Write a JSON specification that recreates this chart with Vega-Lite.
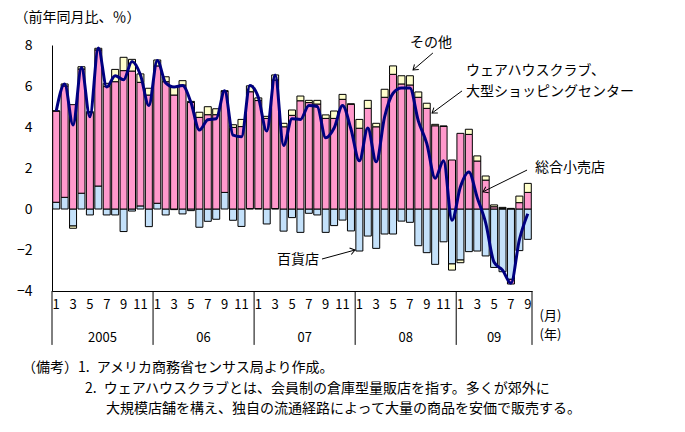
{
  "$schema": "https://vega.github.io/schema/vega-lite/v6.json",
  "width": 480,
  "height": 246,
  "autosize": "none",
  "padding": {"left": 52, "top": 45, "right": 153, "bottom": 141},
  "background": "white",
  "config": {
    "font": "Noto Sans CJK JP",
    "view": {"stroke": null},
    "axis": {"grid": false, "domain": true, "domainWidth": 1, "domainColor": "black", "labelColor": "black", "titleColor": "black", "labelFont": "Noto Sans CJK JP", "titleFont": "Noto Sans CJK JP", "titleFontWeight": "normal"},
    "axisX": {"ticks": false, "labelAngle": 0, "labelPadding": 7, "labelFontSize": 13, "labelOverlap": false, "titleFontSize": 13, "titleX": 487, "titleY": 18, "titleAlign": "left", "titleBaseline": "top", "titleLineHeight": 19},
    "axisY": {"ticks": false, "labelPadding": 20, "labelFontSize": 14, "titleFontSize": 14, "titleAngle": 0, "titleX": -38, "titleY": -28, "titleAlign": "left", "titleBaseline": "middle"}
  },
  "datasets": {
    "monthly": [
      {"t": "2005-01", "dept": 0.33, "club": 4.45, "other": 0, "total": 4.78},
      {"t": "2005-02", "dept": 0.57, "club": 5.43, "other": 0.10, "total": 6.10},
      {"t": "2005-03", "dept": -0.83, "club": 5.09, "other": -0.11, "total": 4.10},
      {"t": "2005-04", "dept": 0.77, "club": 6.06, "other": 0.11, "total": 6.90},
      {"t": "2005-05", "dept": -0.29, "club": 4.70, "other": 0.05, "total": 4.50},
      {"t": "2005-06", "dept": 1.12, "club": 6.64, "other": 0.08, "total": 7.85},
      {"t": "2005-07", "dept": -0.29, "club": 5.97, "other": 0.16, "total": 5.95},
      {"t": "2005-08", "dept": -0.29, "club": 6.21, "other": 0.60, "total": 6.50},
      {"t": "2005-09", "dept": -1.10, "club": 6.75, "other": 0.65, "total": 6.30},
      {"t": "2005-10", "dept": -0.10, "club": 6.73, "other": 0.57, "total": 7.20},
      {"t": "2005-11", "dept": 0.15, "club": 6.03, "other": 0.41, "total": 6.55},
      {"t": "2005-12", "dept": -0.86, "club": 5.56, "other": 0.33, "total": 5.05},
      {"t": "2006-01", "dept": 0.28, "club": 6.70, "other": 0.29, "total": 7.25},
      {"t": "2006-02", "dept": -0.29, "club": 6.21, "other": 0.24, "total": 6.15},
      {"t": "2006-03", "dept": -0.03, "club": 5.56, "other": 0.41, "total": 5.95},
      {"t": "2006-04", "dept": -0.24, "club": 6.05, "other": 0.21, "total": 6.02},
      {"t": "2006-05", "dept": -0.08, "club": 5.20, "other": 0.05, "total": 5.20},
      {"t": "2006-06", "dept": -0.89, "club": 4.47, "other": 0.25, "total": 3.85},
      {"t": "2006-07", "dept": -0.60, "club": 4.60, "other": 0.39, "total": 4.35},
      {"t": "2006-08", "dept": -0.50, "club": 4.60, "other": 0.29, "total": 4.40},
      {"t": "2006-09", "dept": 0.81, "club": 4.93, "other": 0.03, "total": 5.77},
      {"t": "2006-10", "dept": -0.55, "club": 3.98, "other": 0.13, "total": 3.60},
      {"t": "2006-11", "dept": -0.85, "club": 4.02, "other": 0.35, "total": 3.52},
      {"t": "2006-12", "dept": 0.02, "club": 5.70, "other": 0.29, "total": 6.03},
      {"t": "2007-01", "dept": 0.02, "club": 5.27, "other": 0.13, "total": 5.45},
      {"t": "2007-02", "dept": -0.73, "club": 4.42, "other": 0.10, "total": 3.80},
      {"t": "2007-03", "dept": 0.02, "club": 6.27, "other": 0.25, "total": 6.54},
      {"t": "2007-04", "dept": -1.08, "club": 4.01, "other": 0.17, "total": 3.10},
      {"t": "2007-05", "dept": -0.42, "club": 4.57, "other": 0.26, "total": 4.40},
      {"t": "2007-06", "dept": -1.14, "club": 5.28, "other": 0.23, "total": 4.37},
      {"t": "2007-07", "dept": -0.21, "club": 5.19, "other": 0.11, "total": 5.05},
      {"t": "2007-08", "dept": -0.29, "club": 5.12, "other": 0.18, "total": 5.00},
      {"t": "2007-09", "dept": -1.14, "club": 4.42, "other": 0.17, "total": 3.47},
      {"t": "2007-10", "dept": -0.81, "club": 4.42, "other": 0.36, "total": 3.95},
      {"t": "2007-11", "dept": -0.54, "club": 5.35, "other": 0.24, "total": 5.05},
      {"t": "2007-12", "dept": -1.07, "club": 5.11, "other": 0.02, "total": 3.90},
      {"t": "2008-01", "dept": -2.05, "club": 3.94, "other": 0.43, "total": 2.35},
      {"t": "2008-02", "dept": -1.32, "club": 4.91, "other": 0.39, "total": 3.95},
      {"t": "2008-03", "dept": -1.92, "club": 4.01, "other": 0.17, "total": 2.30},
      {"t": "2008-04", "dept": -1.22, "club": 5.45, "other": 0.39, "total": 4.50},
      {"t": "2008-05", "dept": -1.22, "club": 6.57, "other": 0.41, "total": 5.65},
      {"t": "2008-06", "dept": -0.59, "club": 6.10, "other": 0.40, "total": 5.90},
      {"t": "2008-07", "dept": -0.65, "club": 6.05, "other": 0.45, "total": 5.90},
      {"t": "2008-08", "dept": -1.79, "club": 5.45, "other": 0.26, "total": 4.30},
      {"t": "2008-09", "dept": -2.13, "club": 4.91, "other": 0.25, "total": 3.20},
      {"t": "2008-10", "dept": -2.70, "club": 4.06, "other": 0.07, "total": 1.50},
      {"t": "2008-11", "dept": -1.60, "club": 4.03, "other": 0.02, "total": 2.35},
      {"t": "2008-12", "dept": -2.68, "club": 2.39, "other": -0.30, "total": -0.55},
      {"t": "2009-01", "dept": -2.49, "club": 3.69, "other": -0.13, "total": 1.08},
      {"t": "2009-02", "dept": -2.08, "club": 3.64, "other": 0.25, "total": 1.80},
      {"t": "2009-03", "dept": -2.05, "club": 2.34, "other": 0.25, "total": 0.55},
      {"t": "2009-04", "dept": -2.29, "club": 1.41, "other": 0.20, "total": -0.68},
      {"t": "2009-05", "dept": -2.85, "club": 0.11, "other": 0.09, "total": -2.60},
      {"t": "2009-06", "dept": -3.06, "club": 0.03, "other": 0.05, "total": -2.98},
      {"t": "2009-07", "dept": -3.43, "club": -0.23, "other": 0.03, "total": -3.62},
      {"t": "2009-08", "dept": -2.03, "club": 0.31, "other": 0.32, "total": -1.50},
      {"t": "2009-09", "dept": -1.48, "club": 0.81, "other": 0.44, "total": -0.23}
    ],
    "yearStarts": [{"t": "2005-01"}, {"t": "2006-01"}, {"t": "2007-01"}, {"t": "2008-01"}, {"t": "2009-01"}],
    "yearEnd": [{"t": "2009-09"}],
    "yearLabels": [{"t": "2005-07", "label": "2005"}, {"t": "2006-07", "label": "06"}, {"t": "2007-07", "label": "07"}, {"t": "2008-07", "label": "08"}],
    "yearLabelLast": [{"t": "2009-05", "label": "09"}],
    "notes": [
      {"ax": 42.51, "ay": 8.11, "label": "その他"},
      {"ax": 49.16, "ay": 6.73, "label": "ウェアハウスクラブ、\n大型ショッピングセンター"},
      {"ax": 57.36, "ay": 2.0, "label": "総合小売店"},
      {"ax": 26.72, "ay": -2.49, "label": "百貨店"},
      {"ax": -3.56, "ay": -7.76, "label": "（備考）1.\u2002アメリカ商務省センサス局より作成。\n\u200b\u3000\u3000\u3000\u3000\u20022.\u2002ウェアハウスクラブとは、会員制の倉庫型量販店を指す。多くが郊外に\n\u200b\u3000\u3000\u3000\u3000\u3000\u3000大規模店舗を構え、独自の流通経路によって大量の商品を安価で販売する。"}
    ],
    "arrows": [
      {"ax": 45.23, "ay": 7.61, "bx": 42.87, "by": 6.78},
      {"ax": 48.69, "ay": 5.76, "bx": 45.13, "by": 4.68},
      {"ax": 56.41, "ay": 1.90, "bx": 51.18, "by": 0.84},
      {"ax": 32.06, "ay": -2.44, "bx": 35.98, "by": -2.00}
    ]
  },
  "layer": [
    {
      "layer": [
        {
          "data": {"name": "monthly"},
          "transform": [
            {"fold": ["dept", "club", "other"], "as": ["series", "v"]},
            {"calculate": "indexof(['dept','club','other'], datum.series)", "as": "ord"}
          ],
          "mark": {"type": "bar", "width": {"band": 0.83}, "stroke": "black", "strokeWidth": 1},
          "encoding": {
            "x": {"field": "t", "type": "ordinal", "scale": {"type": "band", "paddingInner": 0, "paddingOuter": 0},
                  "axis": {"title": ["(月)", "(年)"], "domain": true, "labelExpr": "toNumber(slice(datum.value, 5)) % 2 == 1 ? toString(toNumber(slice(datum.value, 5))) : ''"}},
            "y": {"field": "v", "type": "quantitative", "stack": "zero", "scale": {"domain": [-4, 8], "nice": false},
                  "axis": {"values": [-4, -2, 0, 2, 4, 6, 8], "domain": true, "title": "（前年同月比、％）"}},
            "color": {"field": "series", "type": "nominal", "scale": {"domain": ["dept", "club", "other"], "range": ["#C4E1FA", "#FF99CC", "#FFFFCC"]}, "legend": null},
            "order": {"field": "ord", "type": "quantitative"}
          }
        },
        {
          "data": {"name": "monthly"},
          "mark": {"type": "line", "color": "#000080", "strokeWidth": 3, "interpolate": "monotone"},
          "encoding": {
            "x": {"field": "t", "type": "ordinal"},
            "y": {"field": "total", "type": "quantitative"}
          }
        },
        {
          "data": {"name": "yearStarts"},
          "mark": {"type": "rule", "color": "black", "strokeWidth": 1},
          "encoding": {
            "x": {"field": "t", "type": "ordinal", "bandPosition": 0},
            "y": {"datum": -4},
            "y2": {"datum": -6.63}
          }
        },
        {
          "data": {"name": "yearEnd"},
          "mark": {"type": "rule", "color": "black", "strokeWidth": 1},
          "encoding": {
            "x": {"field": "t", "type": "ordinal", "bandPosition": 1},
            "y": {"datum": -4},
            "y2": {"datum": -6.63}
          }
        },
        {
          "data": {"name": "yearLabels"},
          "mark": {"type": "text", "fontSize": 13, "baseline": "middle", "align": "center", "color": "black"},
          "encoding": {
            "x": {"field": "t", "type": "ordinal", "bandPosition": 0},
            "y": {"datum": -6.27},
            "text": {"field": "label"}
          }
        },
        {
          "data": {"name": "yearLabelLast"},
          "mark": {"type": "text", "fontSize": 13, "baseline": "middle", "align": "center", "color": "black"},
          "encoding": {
            "x": {"field": "t", "type": "ordinal", "bandPosition": 0.5},
            "y": {"datum": -6.27},
            "text": {"field": "label"}
          }
        }
      ]
    },
    {
      "layer": [
        {
          "data": {"name": "notes"},
          "mark": {"type": "text", "fontSize": 14, "align": "left", "baseline": "middle", "color": "black", "lineBreak": "\n", "lineHeight": 20.5},
          "encoding": {
            "x": {"field": "ax", "type": "quantitative", "scale": {"domain": [0, 57], "nice": false, "zero": false}, "axis": null},
            "y": {"field": "ay", "type": "quantitative"},
            "text": {"field": "label"}
          }
        },
        {
          "data": {"name": "arrows"},
          "mark": {"type": "rule", "color": "black", "strokeWidth": 1},
          "encoding": {
            "x": {"field": "ax", "type": "quantitative", "axis": null},
            "y": {"field": "ay", "type": "quantitative"},
            "x2": {"field": "bx"},
            "y2": {"field": "by"}
          }
        },
        {
          "data": {"name": "arrows"},
          "transform": [
            {"calculate": "atan2((datum.ay - datum.by) * 20.5, (datum.bx - datum.ax) * 8.421) * 180 / PI", "as": "ang"}
          ],
          "mark": {"type": "point", "shape": "M-1,-0.7L0,0L-1,0.7", "filled": false, "stroke": "black", "strokeWidth": 1, "size": 90, "opacity": 1},
          "encoding": {
            "x": {"field": "bx", "type": "quantitative", "axis": null},
            "y": {"field": "by", "type": "quantitative"},
            "angle": {"field": "ang", "type": "quantitative", "scale": null}
          }
        }
      ]
    }
  ],
  "resolve": {"scale": {"x": "independent"}}
}
